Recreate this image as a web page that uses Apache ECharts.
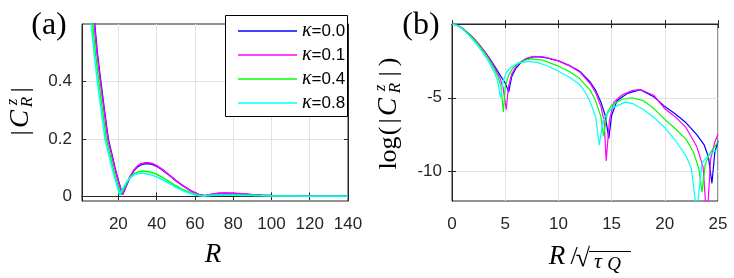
<!DOCTYPE html>
<html><head><meta charset="utf-8">
<script src="https://cdn.jsdelivr.net/npm/echarts@6/dist/echarts.min.js"></script>
<style>html,body{margin:0;padding:0;background:#fff}#c{width:734px;height:278px}</style>
</head><body><div id="c"></div>
<script>
const seriesNames = ['κ=0.0', 'κ=0.1', 'κ=0.4', 'κ=0.8'];
const colors = ['#0000ff', '#ff00ff', '#00ff00', '#00ffff'];
const leftXTicks = [20, 40, 60, 80, 100, 120, 140];
const leftYTicks = [0, 0.2, 0.4];
const rightXTicks = [0, 5, 10, 15, 20, 25];
const rightYTicks = [-10, -5];

// panel (a): |C_R^z| vs R
const leftR_k00 = [1, 4, 6, 7.6, 9, 10.8, 12.7, 14.7, 16.5, 18.2, 20, 22.2, 24, 26, 28, 30, 32, 34, 36, 38, 40, 43, 46, 50, 54, 58, 62, 65.2, 68, 72, 76, 80, 85, 90, 95, 100, 110, 120, 130, 140];
const leftC_k00 = [1.0, 0.82, 0.70, 0.60, 0.5, 0.40, 0.30, 0.20, 0.15, 0.10, 0.055, 0.006, 0.035, 0.065, 0.088, 0.103, 0.111, 0.114, 0.114, 0.111, 0.105, 0.092, 0.077, 0.055, 0.036, 0.019, 0.007, 0.002, 0.006, 0.010, 0.011, 0.010, 0.008, 0.006, 0.004, 0.003, 0.002, 0.001, 0.0008, 0.0005];
const leftR_k01 = [1, 4, 6, 7.4, 8.8, 10.6, 12.5, 14.5, 16.3, 18.0, 19.9, 22.0, 24, 26, 28, 30, 32, 34, 36, 38, 40, 43, 46, 50, 54, 58, 62, 65, 68, 72, 76, 80, 85, 90, 95, 100, 110, 120, 130, 140];
const leftC_k01 = [1.0, 0.82, 0.69, 0.60, 0.5, 0.40, 0.30, 0.20, 0.15, 0.10, 0.055, 0.006, 0.037, 0.068, 0.091, 0.106, 0.114, 0.117, 0.117, 0.114, 0.107, 0.094, 0.078, 0.056, 0.036, 0.019, 0.007, 0.002, 0.007, 0.011, 0.012, 0.011, 0.009, 0.006, 0.004, 0.003, 0.002, 0.001, 0.0008, 0.0005];
const leftR_k04 = [1, 4, 5.5, 6.6, 8, 9.8, 11.7, 13.7, 15.5, 17.2, 19.0, 21.2, 23, 25, 27, 29, 31, 33, 35, 37, 40, 43, 46, 50, 54, 58, 61, 64.5, 68, 72, 76, 80, 85, 90, 95, 100, 110, 120, 130, 140];
const leftC_k04 = [1.0, 0.78, 0.68, 0.60, 0.5, 0.40, 0.30, 0.20, 0.15, 0.10, 0.055, 0.006, 0.03, 0.055, 0.072, 0.082, 0.087, 0.088, 0.087, 0.084, 0.077, 0.066, 0.054, 0.037, 0.023, 0.012, 0.006, 0.001, 0.004, 0.006, 0.006, 0.006, 0.005, 0.004, 0.003, 0.002, 0.001, 0.0008, 0.0005, 0.0004];
const leftR_k08 = [1, 4, 5.0, 5.8, 7.3, 9.0, 11.0, 13.0, 14.8, 16.6, 18.5, 20.6, 22.5, 24.5, 26.5, 28.5, 30.5, 32.3, 34.5, 37, 40, 43, 46, 50, 54, 58, 61, 64, 68, 72, 76, 80, 85, 90, 95, 100, 110, 120, 130, 140];
const leftC_k08 = [1.0, 0.72, 0.66, 0.60, 0.5, 0.40, 0.30, 0.20, 0.15, 0.10, 0.055, 0.006, 0.03, 0.053, 0.067, 0.076, 0.080, 0.081, 0.079, 0.075, 0.068, 0.058, 0.047, 0.032, 0.019, 0.009, 0.004, 0.001, 0.003, 0.004, 0.004, 0.004, 0.003, 0.003, 0.002, 0.001, 0.001, 0.0006, 0.0004, 0.0003];

// panel (b): log(|C_R^z|) vs R/sqrt(tau_Q)
const rightX_k00 = [0, 0.5, 1, 1.5, 2, 2.5, 3, 3.5, 4, 4.5, 5, 5.33, 5.6, 6, 6.5, 7, 7.65, 8.5, 9, 10, 11, 12, 13, 13.5, 14, 14.4, 14.74, 15.0, 15.5, 16.5, 17.7, 19, 20, 21, 22, 23, 23.7, 24.1, 24.43, 24.7, 25];
const rightY_k00 = [0, -0.08, -0.3, -0.6, -0.95, -1.35, -1.8, -2.3, -2.85, -3.45, -4.0, -4.6, -3.6, -3.0, -2.6, -2.37, -2.22, -2.25, -2.32, -2.5, -2.8, -3.2, -3.95, -4.5, -5.3, -6.2, -7.75, -6.2, -5.2, -4.7, -4.45, -4.95, -5.6, -6.1, -6.7, -7.5, -8.2, -9.0, -10.8, -8.7, -7.93];
const rightX_k01 = [0, 0.5, 1, 1.5, 2, 2.5, 3, 3.5, 4, 4.5, 4.8, 5.1, 5.3, 5.6, 6, 6.5, 7, 7.65, 8.5, 9, 10, 11, 12, 13, 13.5, 14, 14.3, 14.49, 14.8, 15.2, 16, 17, 17.7, 19, 20, 21, 22, 23, 23.6, 23.96, 24.3, 24.7, 25];
const rightY_k01 = [0, -0.08, -0.3, -0.6, -0.95, -1.35, -1.82, -2.35, -2.95, -3.65, -4.3, -5.8, -4.3, -3.4, -2.9, -2.55, -2.32, -2.19, -2.22, -2.3, -2.5, -2.82, -3.25, -4.05, -4.65, -5.6, -6.6, -9.28, -6.5, -5.3, -4.8, -4.5, -4.44, -4.85, -5.75, -6.3, -7.03, -8.3, -9.7, -13.5, -9.2, -8.0, -7.48];
const rightX_k04 = [0, 0.5, 1, 1.5, 2, 2.5, 3, 3.5, 4, 4.3, 4.6, 4.83, 5.0, 5.3, 5.7, 6.2, 7, 7.5, 8.5, 10, 11, 12, 13, 13.5, 14, 14.24, 14.6, 15, 16, 16.9, 18, 19, 20, 21, 22, 22.7, 23.2, 23.5, 23.8, 24.3, 25];
const rightY_k04 = [0, -0.09, -0.32, -0.63, -1.0, -1.42, -1.9, -2.45, -3.1, -3.55, -4.2, -5.97, -4.3, -3.5, -3.0, -2.65, -2.42, -2.37, -2.45, -2.86, -3.2, -3.7, -4.5, -5.2, -6.3, -7.6, -6.0, -5.5, -5.1, -5.0, -5.2, -5.75, -6.47, -7.1, -7.82, -8.7, -9.8, -11.4, -9.5, -8.7, -8.0];
const rightX_k08 = [0, 0.5, 1, 1.5, 2, 2.5, 3, 3.5, 4, 4.3, 4.55, 4.8, 5.1, 5.5, 6.2, 7.2, 8, 9, 10, 11, 12, 12.5, 13, 13.5, 13.84, 14.2, 15, 16.3, 17, 18, 19, 20, 21, 22, 22.5, 23.0, 23.5, 24, 25];
const rightY_k08 = [0, -0.1, -0.36, -0.7, -1.1, -1.55, -2.05, -2.62, -3.3, -3.85, -5.0, -3.9, -3.3, -2.95, -2.65, -2.53, -2.6, -2.85, -3.2, -3.6, -4.1, -4.6, -5.3, -6.3, -8.22, -6.5, -5.7, -5.3, -5.4, -5.8, -6.35, -7.03, -7.9, -8.95, -9.8, -12.8, -9.4, -9.0, -8.45];

const leftSets = [[leftR_k00, leftC_k00], [leftR_k01, leftC_k01], [leftR_k04, leftC_k04], [leftR_k08, leftC_k08]];
const rightSets = [[rightX_k00, rightY_k00], [rightX_k01, rightY_k01], [rightX_k04, rightY_k04], [rightX_k08, rightY_k08]];
const zip = (a, b) => a.map((v, i) => [v, b[i]]);

const AX = '#262626';
const GRID = '#e2e2e2';
const LBL = { fontSize: 17, fontFamily: '"Liberation Sans", Arial, sans-serif', color: AX };

function xMain(gi, min, max, ticks) {
  return { gridIndex: gi, type: 'value', min, max, position: 'bottom',
    axisLine: { show: true, lineStyle: { color: AX } },
    axisTick: { show: true, inside: true, length: 4, customValues: ticks, lineStyle: { color: AX } },
    axisLabel: Object.assign({ customValues: ticks, margin: 15 }, LBL),
    splitLine: { show: true, lineStyle: { color: GRID, width: 1 } } };
}
function xMirror(gi, min, max, ticks) {
  return { gridIndex: gi, type: 'value', min, max, position: 'top',
    axisLine: { show: true, lineStyle: { color: AX } },
    axisTick: { show: true, inside: true, length: 4, customValues: ticks, lineStyle: { color: AX } },
    axisLabel: { show: false }, splitLine: { show: false } };
}
function yMain(gi, min, max, ticks) {
  return { gridIndex: gi, type: 'value', min, max, position: 'left',
    axisLine: { show: true, lineStyle: { color: AX } },
    axisTick: { show: true, inside: true, length: 4, customValues: ticks, lineStyle: { color: AX } },
    axisLabel: Object.assign({ customValues: ticks, margin: 10 }, LBL),
    splitLine: { show: true, lineStyle: { color: GRID, width: 1 } } };
}
function yMirror(gi, min, max, ticks) {
  return { gridIndex: gi, type: 'value', min, max, position: 'right',
    axisLine: { show: true, lineStyle: { color: AX } },
    axisTick: { show: true, inside: true, length: 4, customValues: ticks, lineStyle: { color: AX } },
    axisLabel: { show: false }, splitLine: { show: false } };
}

const series = [];
leftSets.forEach((s, i) => series.push({ name: seriesNames[i], type: 'line', xAxisIndex: 0, yAxisIndex: 0,
  data: zip(s[0], s[1]), showSymbol: false, symbol: 'none', clip: true, color: colors[i],
  lineStyle: { color: colors[i], width: 1.5 }, z: 2 }));
rightSets.forEach((s, i) => series.push({ name: seriesNames[i], type: 'line', xAxisIndex: 2, yAxisIndex: 2,
  data: zip(s[0], s[1]), showSymbol: false, symbol: 'none', clip: true, color: colors[i],
  lineStyle: { color: colors[i], width: 1.2 }, z: 2 }));

const serif = '"Liberation Serif", "DejaVu Serif", serif';
// centred text helper
const T = (text, x, y, font) => ({ type: 'text', x, y, style: { text, font, fill: '#000', textAlign: 'center', align: 'center', textVerticalAlign: 'middle', verticalAlign: 'middle' } });

const chart = echarts.init(document.getElementById('c'), null, { renderer: 'canvas' });
chart.setOption({
  animation: false,
  backgroundColor: '#fff',
  grid: [
    { left: 82, top: 24, width: 266, height: 177, show: true, borderColor: AX, borderWidth: 1, backgroundColor: 'transparent' },
    { left: 452, top: 24, width: 266, height: 177, show: true, borderColor: AX, borderWidth: 1, backgroundColor: 'transparent' }
  ],
  xAxis: [xMain(0, 1, 140, leftXTicks), xMirror(0, 1, 140, leftXTicks), xMain(1, 0, 25, rightXTicks), xMirror(1, 0, 25, rightXTicks)],
  yAxis: [yMain(0, -0.016, 0.6, leftYTicks), yMirror(0, -0.016, 0.6, leftYTicks), yMain(1, -12, 0, rightYTicks), yMirror(1, -12, 0, rightYTicks)],
  legend: {
    data: seriesNames, orient: 'vertical', left: 238, top: 21, z: 20,
    itemWidth: 59, itemHeight: 1.5, itemGap: 4, padding: 0, icon: 'rect',
    selectedMode: false,
    formatter: n => '{k|κ}{n|' + n.slice(1) + '}',
    textStyle: { color: '#000', fontSize: 17, lineHeight: 20,
      rich: { k: { fontFamily: serif, fontStyle: 'italic', fontSize: 20, lineHeight: 20, color: '#000' },
              n: { fontFamily: '"Liberation Sans", Arial, sans-serif', fontSize: 17, lineHeight: 20, color: '#000' } } }
  },
  graphic: [
    { type: 'rect', z: 10, shape: { x: 225.5, y: 15.5, width: 122, height: 101 }, style: { fill: '#fff', stroke: '#000', lineWidth: 1 } },
    T('(a)', 49, 26, '32px ' + serif),
    T('(b)', 421, 26, '32px ' + serif),
    T('R', 213, 255, 'italic 27px ' + serif),
    // right x title: R/sqrt(tau_Q)
    T('R', 557, 257, 'italic 27px ' + serif),
    T('/', 574, 257, '26px ' + serif),
    T('√', 583, 259, '26px ' + serif),
    { type: 'line', shape: { x1: 589, y1: 251.5, x2: 631, y2: 251.5 }, style: { stroke: '#000', lineWidth: 1.2 } },
    T('τ', 598, 262, 'italic 22px ' + serif),
    T('Q', 614, 265, 'italic 19px ' + serif),
    // left y title |C_R^z|
    { type: 'group', x: 21, y: 112, rotation: Math.PI / 2, children: [
      T('|', -21, 0, '26px ' + serif),
      T('C', -7, 0, 'italic 27px ' + serif),
      T('z', 10, -8, 'italic 17px ' + serif),
      T('R', 10, 7, 'italic 17px ' + serif),
      T('|', 22, 0, '26px ' + serif)
    ] },
    // right y title log(|C_R^z|)
    { type: 'group', x: 389, y: 110, rotation: Math.PI / 2, children: [
      T('log', -43, 0, '26px ' + serif),
      T('(', -21, 0, '26px ' + serif),
      T('|', -11, 0, '26px ' + serif),
      T('C', 3, 0, 'italic 27px ' + serif),
      T('z', 22, -8, 'italic 17px ' + serif),
      T('R', 22, 7, 'italic 17px ' + serif),
      T('|', 36, 0, '26px ' + serif),
      T(')', 48, 0, '26px ' + serif)
    ] }
  ],
  series
});
</script></body></html>
